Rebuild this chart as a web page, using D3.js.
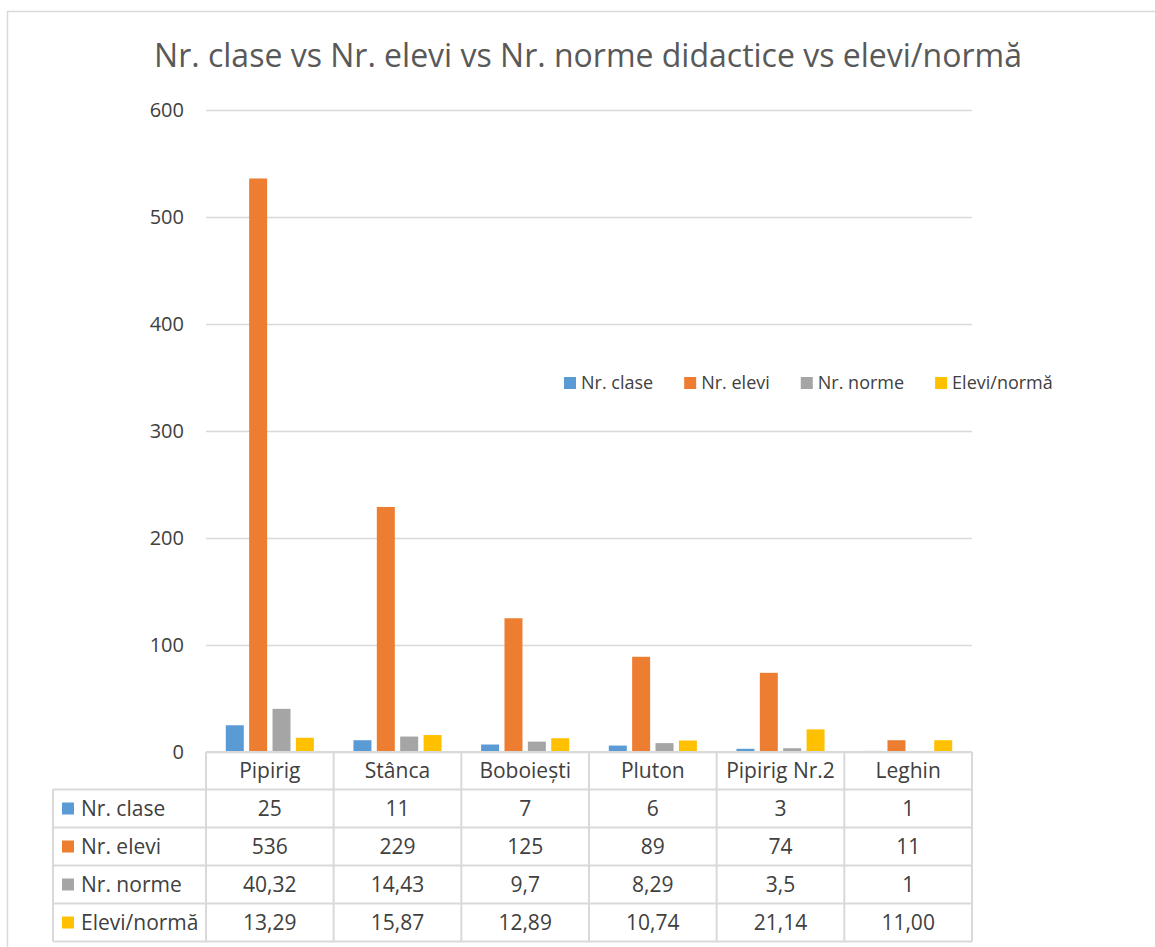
<!DOCTYPE html>
<html>
<head>
<meta content="text/html;charset=utf-8" http-equiv="Content-Type">
<title>Nr. clase vs Nr. elevi</title>
<script src="https://d3js.org/d3.v7.min.js"></script>
<style>
  body { margin: 0; background: #fff; }
  text { font-family: "Open Sans", sans-serif; }
</style>
</head>
<body>
<script>
    // data
    const schools = ["Pipirig", "Stânca", "Boboiești", "Pluton", "Pipirig Nr.2", "Leghin"];
    const seriesNames = ["Nr. clase", "Nr. elevi", "Nr. norme", "Elevi/normă"];
    const nrClase = [25, 11, 7, 6, 3, 1];
    const nrElevi = [536, 229, 125, 89, 74, 11];
    const nrNorme = [40.32, 14.43, 9.7, 8.29, 3.5, 1];
    const eleviNorma = [13.29, 15.87, 12.89, 10.74, 21.14, 11.00];
    const yTicks = [0, 100, 200, 300, 400, 500, 600];
    const colors = ["#5B9BD5", "#ED7D31", "#A5A5A5", "#FFC000"];

    const allSeries = [nrClase, nrElevi, nrNorme, eleviNorma];
    // how each row is printed in the data table
    const fmt = [
        v => String(v),
        v => String(v),
        v => String(v).replace(".", ","),
        v => v.toFixed(2).replace(".", ",")
    ];

    const W = 1155, H = 947;
    const m = {top: 110, left: 206, right: 183, bottom: 195};
    const plotW = W - m.left - m.right;
    const plotH = H - m.top - m.bottom;
    const headH = 37.5, rowH = 38, labelColX = 53;

    const svg = d3.select("body").append("svg")
        .attr("width", W)
        .attr("height", H);

    // outer chart border
    svg.append("rect")
        .attr("x", 7.5).attr("y", 11.5)
        .attr("width", W + 10).attr("height", H + 10)
        .attr("fill", "none")
        .attr("stroke", "#d9d9d9")
        .attr("stroke-width", 1.5);

    svg.append("text")
        .attr("x", 588)
        .attr("y", 67)
        .attr("text-anchor", "middle")
        .attr("font-size", 32)
        .attr("fill", "#595959")
        .text("Nr. clase vs Nr. elevi vs Nr. norme didactice vs elevi/normă");

    const g = svg.append("g")
        .attr("transform", "translate(" + m.left + "," + m.top + ")");

    const x0 = d3.scaleBand()
        .domain(schools)
        .range([0, plotW])
        .paddingInner(0.31)
        .paddingOuter(0.155);

    const x1 = d3.scaleBand()
        .domain(seriesNames)
        .range([0, x0.bandwidth()])
        .paddingInner(0.23);

    const y = d3.scaleLinear()
        .domain([0, 600])
        .range([plotH, 0]);

    // gridlines + tick labels
    const yAxis = g.append("g")
        .call(d3.axisLeft(y).tickValues(yTicks).tickSize(-plotW).tickPadding(22))
        .call(s => s.select(".domain").remove());
    yAxis.selectAll(".tick line")
        .attr("stroke", "#d9d9d9")
        .attr("stroke-width", 1.5);
    yAxis.selectAll(".tick text")
        .attr("font-size", 20)
        .attr("fill", "#404040")
        .attr("font-family", "Open Sans, sans-serif");

    // bars
    schools.forEach((s, i) => {
        allSeries.forEach((arr, k) => {
            g.append("rect")
                .attr("x", x0(s) + x1(seriesNames[k]))
                .attr("y", y(arr[i]))
                .attr("width", x1.bandwidth())
                .attr("height", plotH - y(arr[i]))
                .attr("fill", colors[k]);
        });
    });

    // data table under the plot
    const t = g.append("g").attr("transform", "translate(0," + plotH + ")");
    const tableBottom = headH + rowH * seriesNames.length;
    const line = (x1_, y1_, x2_, y2_) => t.append("line")
        .attr("x1", x1_).attr("y1", y1_).attr("x2", x2_).attr("y2", y2_)
        .attr("stroke", "#d9d9d9").attr("stroke-width", 2);

    const step = x0.step();
    const colEdges = schools.map((s, i) => i * step).concat([plotW]);
    line(0, 0, plotW, 0);
    for (let r = 0; r <= seriesNames.length; r++) {
        line(labelColX - m.left, headH + r * rowH, plotW, headH + r * rowH);
    }
    colEdges.forEach(cx => line(cx, 0, cx, tableBottom));
    line(labelColX - m.left, headH, labelColX - m.left, tableBottom);

    schools.forEach((s, i) => {
        t.append("text")
            .attr("x", x0(s) + x0.bandwidth() / 2)
            .attr("y", headH / 2)
            .attr("dy", "0.36em")
            .attr("text-anchor", "middle")
            .attr("font-size", 21)
            .attr("fill", "#404040")
            .text(s);
        allSeries.forEach((arr, k) => {
            t.append("text")
                .attr("x", x0(s) + x0.bandwidth() / 2)
                .attr("y", headH + rowH * k + rowH / 2)
                .attr("dy", "0.36em")
                .attr("text-anchor", "middle")
                .attr("font-size", 21)
                .attr("fill", "#404040")
                .text(fmt[k](arr[i]));
        });
    });

    seriesNames.forEach((name, k) => {
        const ry = headH + rowH * k + rowH / 2;
        t.append("rect")
            .attr("x", labelColX - m.left + 9)
            .attr("y", ry - 6)
            .attr("width", 12).attr("height", 12)
            .attr("fill", colors[k]);
        t.append("text")
            .attr("x", labelColX - m.left + 28)
            .attr("y", ry)
            .attr("dy", "0.36em")
            .attr("font-size", 21)
            .attr("fill", "#404040")
            .text(name);
    });

    // legend
    const leg = svg.append("g").attr("transform", "translate(564,383)");
    let lx = 0;
    seriesNames.forEach((name, k) => {
        leg.append("rect")
            .attr("x", lx).attr("y", -6)
            .attr("width", 12).attr("height", 12)
            .attr("fill", colors[k]);
        const tx = leg.append("text")
            .attr("x", lx + 17)
            .attr("dy", "0.36em")
            .attr("font-size", 18)
            .attr("fill", "#404040")
            .text(name);
        lx += 17 + tx.node().getComputedTextLength() + 31;
    });
</script>
</body>
</html>
